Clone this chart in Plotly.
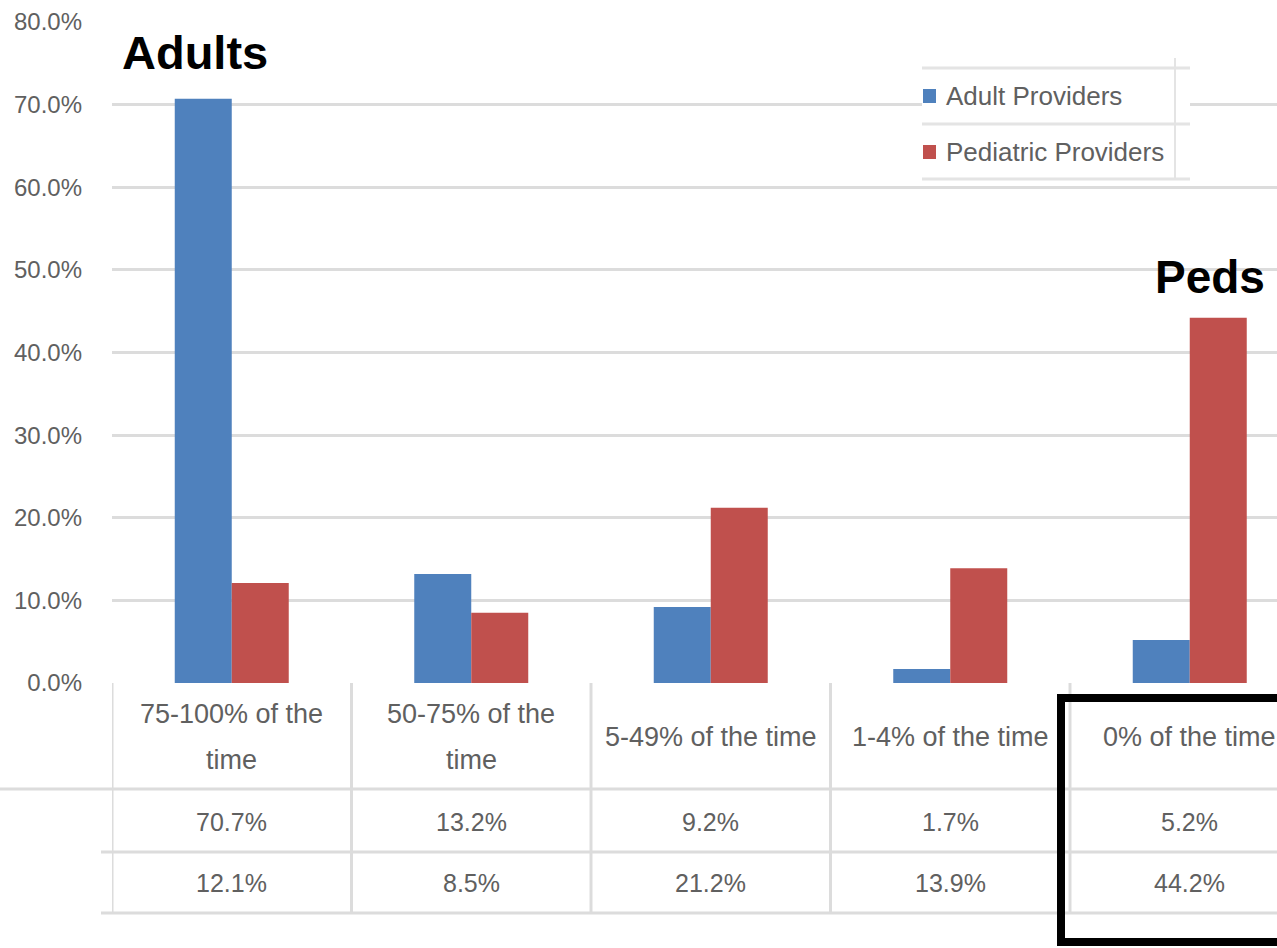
import plotly.graph_objects as go

# ---- data ----
categories = [
    "75-100% of the<br>time",
    "50-75% of the<br>time",
    "5-49% of the time",
    "1-4% of the time",
    "0% of the time",
]
adult_providers = [70.7, 13.2, 9.2, 1.7, 5.2]
pediatric_providers = [12.1, 8.5, 21.2, 13.9, 44.2]
series_names = ["Adult Providers", "Pediatric Providers"]
y_ticks = [0, 10, 20, 30, 40, 50, 60, 70, 80]

# ---- styling ----
W, H = 1277, 948
L, R, T, B = 112, 1277, 22, 683          # plot area in page pixels
PITCH = 239.5                              # pixel width of one category
BLUE, RED = "#4F81BD", "#C0504D"
TXT = "#606060"
GRID = "#dcdcdc"
FONT = "Liberation Sans, Arial, sans-serif"
BOLD = "Liberation Sans, Arial, sans-serif"


def px(x):
    return (x - L) / (R - L)


def py(y):
    return (B - y) / (B - T)


fig = go.Figure()
fig.add_trace(go.Bar(x=list(range(len(categories))), y=adult_providers,
                     name=series_names[0], marker=dict(color=BLUE, line_width=0)))
fig.add_trace(go.Bar(x=list(range(len(categories))), y=pediatric_providers,
                     name=series_names[1], marker=dict(color=RED, line_width=0)))

shapes = []
annotations = []

# data table grid
line_style = dict(color=GRID, width=3)
for i in range(len(categories)):
    xv = i - 0.5
    shapes.append(dict(type="line", xref="x", yref="paper", x0=xv, x1=xv,
                       y0=py(683), y1=py(913), line=line_style))
shapes.append(dict(type="line", xref="paper", yref="paper", x0=px(0), x1=1,
                   y0=py(789), y1=py(789), line=line_style))
for yy in (852, 913):
    shapes.append(dict(type="line", xref="paper", yref="paper", x0=px(101), x1=1,
                       y0=py(yy), y1=py(yy), line=line_style))

# table text: categories (one annotation per wrapped line) and values
cat_font = dict(family=FONT, size=27, color=TXT)
val_font = dict(family=FONT, size=25, color=TXT)
for i, cat in enumerate(categories):
    lines = cat.split("<br>")
    ys = [737] if len(lines) == 1 else [714, 760]
    for text, yy in zip(lines, ys):
        annotations.append(dict(x=i, y=py(yy), xref="x", yref="paper", text=text,
                                showarrow=False, xanchor="center", yanchor="middle",
                                font=cat_font))
    annotations.append(dict(x=i, y=py(822), xref="x", yref="paper",
                            text=f"{adult_providers[i]:.1f}%", showarrow=False,
                            xanchor="center", yanchor="middle", font=val_font))
    annotations.append(dict(x=i, y=py(883), xref="x", yref="paper",
                            text=f"{pediatric_providers[i]:.1f}%", showarrow=False,
                            xanchor="center", yanchor="middle", font=val_font))

# legend panel
shapes.append(dict(type="rect", xref="paper", yref="paper", layer="above",
                   x0=px(922), x1=px(1190), y0=py(182), y1=py(58),
                   fillcolor="white", line_width=0))
for yy in (68, 124, 179):
    shapes.append(dict(type="line", xref="paper", yref="paper", layer="above",
                       x0=px(922), x1=px(1190), y0=py(yy), y1=py(yy),
                       line=dict(color="#e4e4e4", width=3)))
shapes.append(dict(type="line", xref="paper", yref="paper", layer="above",
                   x0=px(1175), x1=px(1175), y0=py(58), y1=py(180),
                   line=dict(color="#e4e4e4", width=2)))
for name, color, yc in ((series_names[0], BLUE, 96), (series_names[1], RED, 152)):
    shapes.append(dict(type="rect", xref="paper", yref="paper", layer="above",
                       x0=px(923), x1=px(936), y0=py(yc + 7), y1=py(yc - 7),
                       fillcolor=color, line_width=0))
    annotations.append(dict(x=px(944), y=py(yc), xref="paper", yref="paper",
                            text=name, showarrow=False, xanchor="left",
                            yanchor="middle",
                            font=dict(family=FONT, size=26, color=TXT)))

# group call-outs
annotations.append(dict(x=px(120), y=py(52), xref="paper", yref="paper",
                        text="<b>Adults</b>", showarrow=False, xanchor="left",
                        yanchor="middle", font=dict(family=BOLD, size=47, color="black")))
annotations.append(dict(x=px(1153), y=py(277), xref="paper", yref="paper",
                        text="<b>Peds</b>", showarrow=False, xanchor="left",
                        yanchor="middle", font=dict(family=BOLD, size=46, color="black")))

# highlight frame around the last column
shapes.append(dict(type="rect", xref="paper", yref="paper", layer="above",
                   x0=px(1061), x1=px(1300), y0=py(942), y1=py(698),
                   line=dict(color="black", width=8), fillcolor="rgba(0,0,0,0)"))

fig.update_layout(
    width=W, height=H,
    margin=dict(l=L, r=W - R, t=T, b=H - B, pad=0),
    paper_bgcolor="white", plot_bgcolor="white",
    barmode="group", bargap=0.524, bargroupgap=0,
    showlegend=False,
    shapes=shapes, annotations=annotations,
    xaxis=dict(range=[-0.5, -0.5 + (R - L) / PITCH], showticklabels=False,
               showgrid=False, zeroline=False, showline=False, ticks=""),
    yaxis=dict(range=[0, 80], tickvals=y_ticks,
               ticktext=[f"{v:.1f}%" for v in y_ticks],
               showgrid=True, gridcolor=GRID, gridwidth=3, zeroline=False,
               showline=False, ticks="", ticklabelstandoff=29,
               tickfont=dict(family=FONT, size=24, color=TXT)),
)

fig.write_html("out.html")
